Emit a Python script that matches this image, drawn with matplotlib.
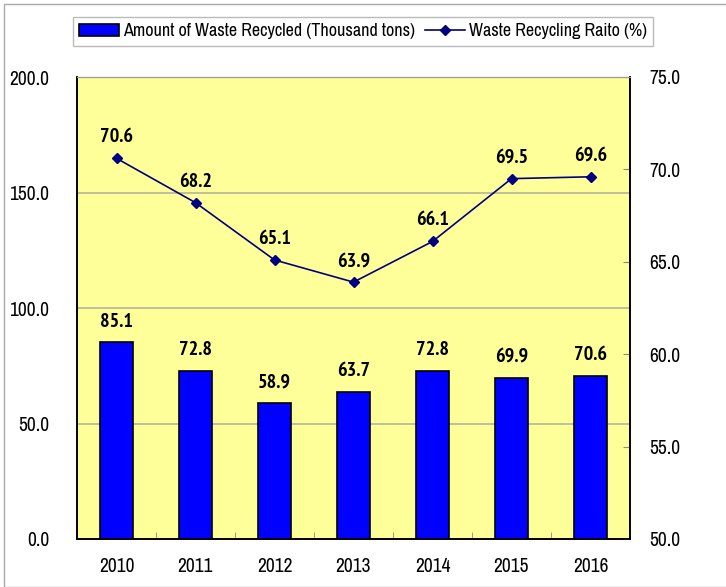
import matplotlib
matplotlib.use('Agg')
import matplotlib.pyplot as plt
import numpy as np
from matplotlib.patches import Rectangle

years = ['2010', '2011', '2012', '2013', '2014', '2015', '2016']
amount = [85.1, 72.8, 58.9, 63.7, 72.8, 69.9, 70.6]
ratio = [70.6, 68.2, 65.1, 63.9, 66.1, 69.5, 69.6]

plt.rcParams['font.family'] = ['Archivo Narrow', 'Liberation Sans', 'DejaVu Sans']
bold_fam = ['PT Sans Narrow', 'Roboto Condensed', 'Liberation Sans', 'DejaVu Sans']

fig = plt.figure(figsize=(7.26, 5.87), dpi=100)
ax = fig.add_axes([77/726, 48/587, 553/726, 462/587])
ax2 = ax.twinx()

x = np.arange(len(years))
bars = ax.bar(x, amount, width=0.42, color='#0000ff', edgecolor='black', linewidth=1.2, zorder=3,
              label='Amount of Waste Recycled (Thousand tons)')
ax.set_facecolor('#ffff99')
ax.set_xlim(-0.5, 6.5)
ax.set_ylim(0, 200)
ax.set_yticks([0, 50, 100, 150, 200])
ax.set_yticklabels(['%.1f' % v for v in [0, 50, 100, 150, 200]])
ax.grid(axis='y', color='#b4b4a0', linewidth=1.2, zorder=0)
ax.set_axisbelow(True)
ax.set_xticks(x)
ax.set_xticklabels(years)
ax.set_xticks(np.arange(0.5, 6.5, 1), minor=True)
ax.tick_params(axis='x', which='major', length=0, pad=13, labelsize=14)
ax.tick_params(axis='x', which='minor', direction='in', length=5, color='#888888')
ax.tick_params(axis='y', length=0, pad=20, labelsize=14)
for b, v in zip(bars, amount):
    ax.text(b.get_x() + b.get_width() / 2, v + 5, '%.1f' % v, ha='center', va='bottom',
            fontsize=14.5, fontweight='bold', family=bold_fam)

line, = ax2.plot(x, ratio, color='#000080', marker='D', markersize=5, linewidth=1.2,
                 label='Waste Recycling Raito (%)', zorder=4)
ax2.set_ylim(50, 75)
ax2.set_yticks([50, 55, 60, 65, 70, 75])
ax2.set_yticklabels(['%.1f' % v for v in [50, 55, 60, 65, 70, 75]])
ax2.tick_params(axis='y', direction='in', length=5, color='#888888', pad=14, labelsize=14)
for xi, v in zip(x, ratio):
    ax2.text(xi, v + 0.65, '%.1f' % v, ha='center', va='bottom', fontsize=14.5,
             fontweight='bold', family=bold_fam)

for a in (ax, ax2):
    a.spines['top'].set_color('#999999')
    a.spines['left'].set_color('black')
    a.spines['bottom'].set_color('black')
    a.spines['right'].set_color('black')
    a.spines['left'].set_linewidth(1.2)
    a.spines['bottom'].set_linewidth(1.2)
    a.spines['right'].set_linewidth(1.2)

leg = fig.legend([bars, line], [bars.get_label(), line.get_label()], loc='upper left',
                 bbox_to_anchor=(73/726, 1 - 17/587), ncol=2, frameon=True, fancybox=False,
                 fontsize=13, handlelength=2.2, handletextpad=0.2, columnspacing=0.6,
                 borderpad=0.35, borderaxespad=0)
leg.get_frame().set_edgecolor('#aaaaaa')
leg.get_frame().set_linewidth(1.0)

fig.patches.append(Rectangle((4/726, 0), 2, 1 - 4/587, transform=fig.transFigure,
                             fill=False, edgecolor='#aaaaaa', linewidth=1.0))

fig.savefig('out.png', dpi=100)
